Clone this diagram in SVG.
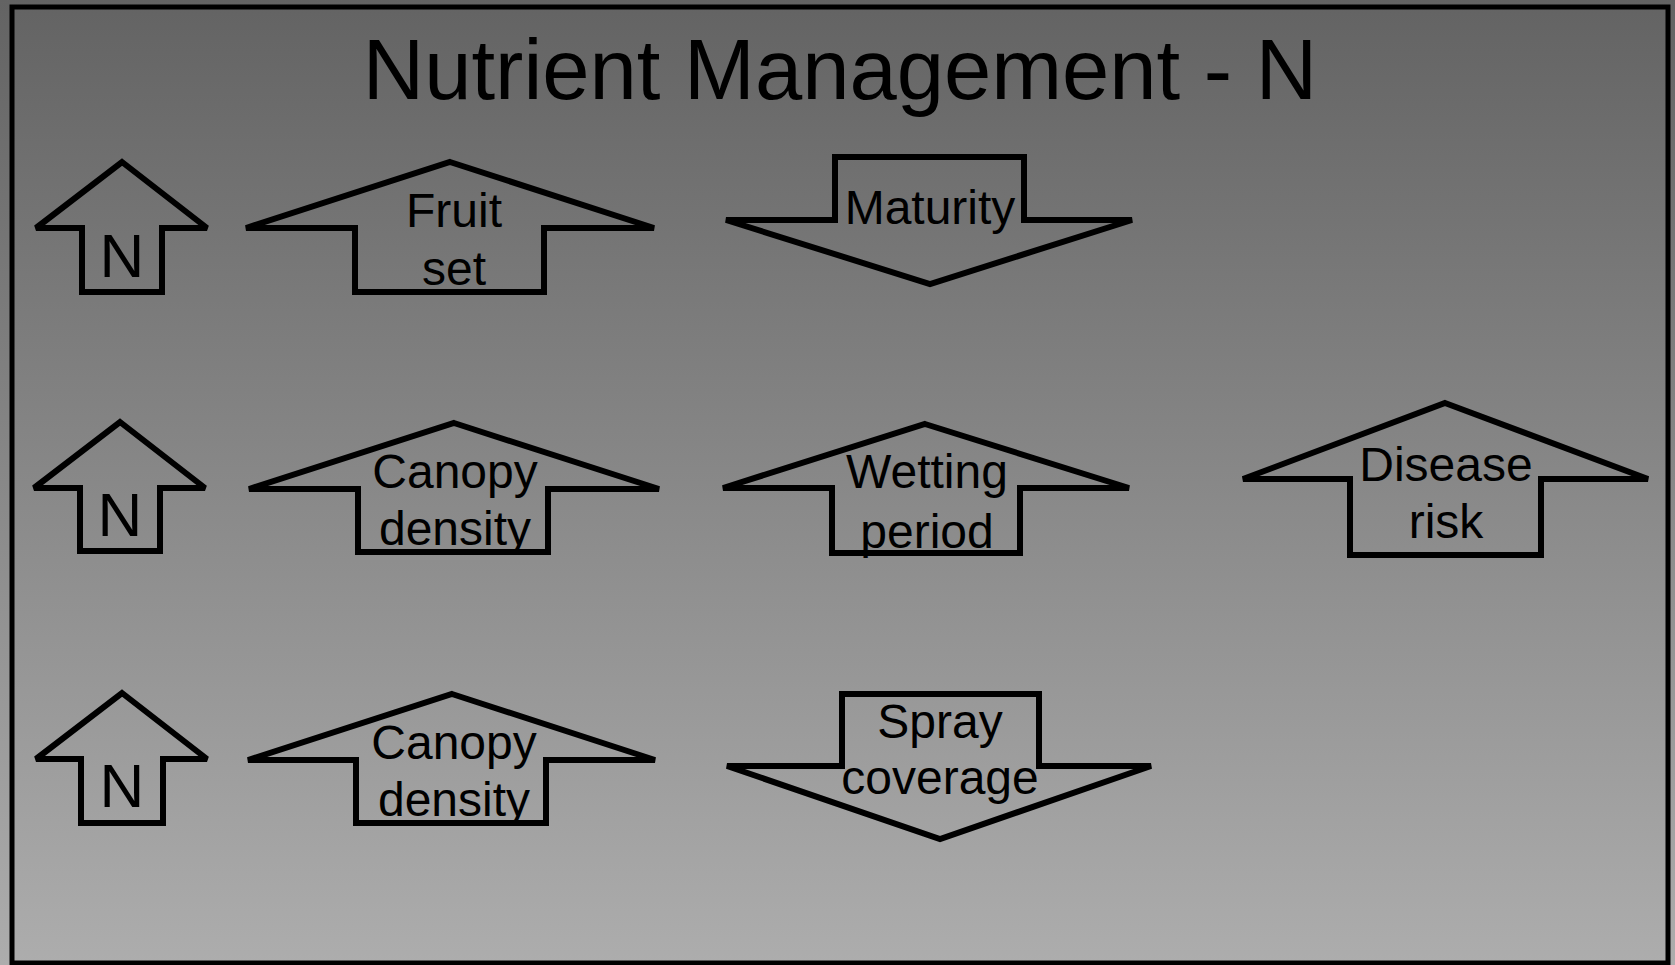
<svg xmlns="http://www.w3.org/2000/svg" width="1675" height="965" viewBox="0 0 1675 965">
<defs>
<linearGradient id="bg" x1="0" y1="0" x2="0" y2="1">
<stop offset="0" stop-color="#636363"/>
<stop offset="1" stop-color="#adadad"/>
</linearGradient>
</defs>
<style>
.arrow{fill:none;stroke:#000;stroke-width:6;stroke-linejoin:miter;stroke-miterlimit:2}
.lbl{font-family:"Liberation Sans",Arial,sans-serif;font-size:48px;fill:#000;text-anchor:middle}
.n{font-size:62px}
.title{font-family:"Liberation Sans",Arial,sans-serif;font-size:85px;fill:#000;text-anchor:middle}
</style>
<rect x="0" y="0" width="1675" height="965" fill="url(#bg)"/>
<rect x="12" y="7" width="1656" height="956" fill="none" stroke="#000" stroke-width="5"/>
<text class="title" x="840" y="99">Nutrient Management - N</text>
<g id="connectors"></g>
<g id="n1">
<polygon class="arrow" points="122,162 207,228 162,228 162,292 82,292 82,228 36,228"/>
<text class="lbl n" x="122" y="277">N</text>
</g>
<g id="fruit-set">
<polygon class="arrow" points="450,162 654,228 544,228 544,292 355,292 355,228 246,228"/>
<text class="lbl" x="454" y="227">Fruit</text>
<text class="lbl" x="454" y="285">set</text>
</g>
<g id="maturity">
<polygon class="arrow" points="835,157 1024,157 1024,220 1132,220 930,284 726,220 835,220"/>
<text class="lbl" x="930" y="224">Maturity</text>
</g>
<g id="n2">
<polygon class="arrow" points="120,422 205,488 160,488 160,551 80,551 80,488 34,488"/>
<text class="lbl n" x="120" y="536">N</text>
</g>
<g id="canopy-density-1">
<polygon class="arrow" points="454,423 659,489 548,489 548,552 358,552 358,489 249,489"/>
<text class="lbl" x="455" y="488">Canopy</text>
<text class="lbl" x="455" y="545">density</text>
</g>
<g id="wetting-period">
<polygon class="arrow" points="925,424 1129,488 1020,488 1020,553 832,553 832,488 723,488"/>
<text class="lbl" x="927" y="488">Wetting</text>
<text class="lbl" x="927" y="548">period</text>
</g>
<g id="disease-risk">
<polygon class="arrow" points="1445,403 1648,479 1541,479 1541,555 1350,555 1350,479 1243,479"/>
<text class="lbl" x="1446" y="481">Disease</text>
<text class="lbl" x="1446" y="538">risk</text>
</g>
<g id="n3">
<polygon class="arrow" points="122,693 207,759 163,759 163,823 81,823 81,759 36,759"/>
<text class="lbl n" x="122" y="807">N</text>
</g>
<g id="canopy-density-2">
<polygon class="arrow" points="452,694 655,760 546,760 546,823 356,823 356,760 248,760"/>
<text class="lbl" x="454" y="759">Canopy</text>
<text class="lbl" x="454" y="816">density</text>
</g>
<g id="spray-coverage">
<polygon class="arrow" points="842,694 1039,694 1039,766 1151,766 940,839 727,766 842,766"/>
<text class="lbl" x="940" y="738">Spray</text>
<text class="lbl" x="940" y="794">coverage</text>
</g>
</svg>
